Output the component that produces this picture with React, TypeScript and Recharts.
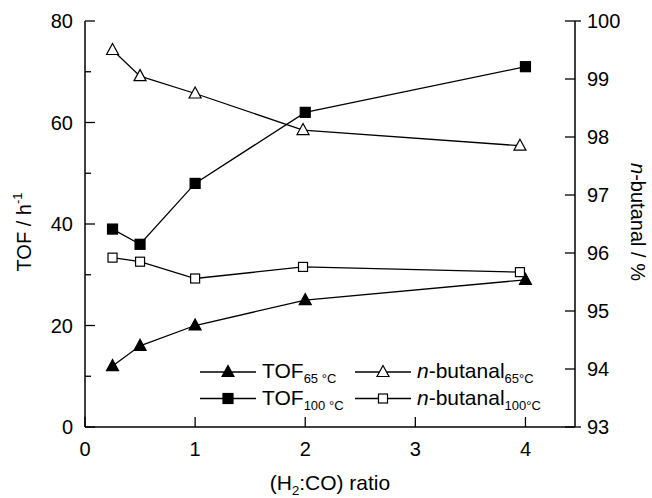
import React from "react";
import { LineChart, Line, XAxis, YAxis, Legend, Label } from "recharts";

// H2:CO ratio at which each series was measured
const ratioTof = [0.25, 0.5, 1, 2, 4];
const ratioButanal = [0.25, 0.5, 1, 1.98, 3.95];

// turnover frequency, h^-1
const tof65 = [12, 16, 20, 25, 29];
const tof100 = [39, 36, 48, 62, 71];

// n-butanal selectivity, %
const butanal65 = [99.5, 99.05, 98.75, 98.12, 97.85];
const butanal100 = [95.92, 95.85, 95.56, 95.76, 95.67];

const xTicks = [0, 1, 2, 3, 4];
const tofTicks = [0, 10, 20, 30, 40, 50, 60, 70, 80];
const butanalTicks = [93, 94, 95, 96, 97, 98, 99, 100];

const FONT = "'Liberation Sans', Arial, Helvetica, sans-serif";
const INK = "#000";

const toPoints = (xs: number[], ys: number[]) =>
  xs.map((x, i) => ({ ratio: x, value: ys[i] }));

type DotProps = { cx?: number; cy?: number; index?: number };

const triangleDot = (filled: boolean) => (p: DotProps) => {
  const { cx = 0, cy = 0, index } = p;
  return (
    <path
      key={`t${index}`}
      d={`M${cx},${cy - 6.5} L${cx + 6},${cy + 4.5} L${cx - 6},${cy + 4.5} Z`}
      fill={filled ? INK : "#fff"}
      stroke={INK}
      strokeWidth={1.2}
    />
  );
};

const squareDot = (filled: boolean) => (p: DotProps) => {
  const { cx = 0, cy = 0, index } = p;
  const s = filled ? 10 : 9;
  return (
    <rect
      key={`s${index}`}
      x={cx - s / 2}
      y={cy - s / 2}
      width={s}
      height={s}
      fill={filled ? INK : "#fff"}
      stroke={INK}
      strokeWidth={1.2}
    />
  );
};

// tick renderers: tickSize is 0, so x/y arrive on the axis line itself
const LeftTick = (props: any) => {
  const { x, y, payload } = props;
  const v = payload.value;
  const major = v % 20 === 0;
  return (
    <g>
      <line x1={x} x2={x + (major ? 10 : 6)} y1={y} y2={y} stroke={INK} strokeWidth={1.3} />
      {major && (
        <text x={x - 12} y={y} dy="0.35em" textAnchor="end" fontSize={20} fontFamily={FONT} fill={INK}>
          {v}
        </text>
      )}
    </g>
  );
};

const RightTick = (props: any) => {
  const { x, y, payload } = props;
  const v = payload.value;
  const edge = v === 93 || v === 100;
  return (
    <g>
      <line x1={x - 10} x2={edge ? x + 6 : x} y1={y} y2={y} stroke={INK} strokeWidth={1.3} />
      <text x={x + 12} y={y} dy="0.35em" textAnchor="start" fontSize={20} fontFamily={FONT} fill={INK}>
        {v}
      </text>
    </g>
  );
};

const BottomTick = (props: any) => {
  const { x, y, payload } = props;
  return (
    <g>
      <line x1={x} x2={x} y1={y} y2={y - 10} stroke={INK} strokeWidth={1.3} />
      <text x={x} y={y + 22} dy="0.35em" textAnchor="middle" fontSize={20} fontFamily={FONT} fill={INK}>
        {payload.value}
      </text>
    </g>
  );
};

const TopTick = (props: any) => {
  const { x, y } = props;
  return <line x1={x} x2={x} y1={y} y2={y + 10} stroke={INK} strokeWidth={1.3} />;
};

const XTitle = (props: any) => {
  const { x, y, width } = props.viewBox;
  return (
    <text x={x + width / 2} y={y + 63} textAnchor="middle" fontSize={21} fontFamily={FONT} fill={INK}>
      (H<tspan fontSize={13} dy={5}>2</tspan>
      <tspan dy={-5}>:CO) ratio</tspan>
    </text>
  );
};

const LeftTitle = (props: any) => {
  const { y, height } = props.viewBox;
  const cx = 31;
  const cy = y + height / 2 + 8;
  return (
    <text
      x={cx}
      y={cy}
      transform={`rotate(-90, ${cx}, ${cy})`}
      textAnchor="middle"
      fontSize={20}
      fontFamily={FONT}
      fill={INK}
    >
      TOF / h<tspan fontSize={13} dy={-9}>-1</tspan>
    </text>
  );
};

const RightTitle = (props: any) => {
  const { x, y, height } = props.viewBox;
  const cx = x + 56;
  const cy = y + height / 2 - 2;
  return (
    <text
      x={cx}
      y={cy}
      transform={`rotate(90, ${cx}, ${cy})`}
      textAnchor="middle"
      fontSize={20}
      fontFamily={FONT}
      fill={INK}
    >
      <tspan fontStyle="italic">n</tspan>-butanal / %
    </text>
  );
};

const legendItems = [
  { main: "TOF", sub: "65 °C", italicN: false, marker: "triangle", filled: true, col: 0, row: 0 },
  { main: "-butanal", sub: "65°C", italicN: true, marker: "triangle", filled: false, col: 1, row: 0 },
  { main: "TOF", sub: "100 °C", italicN: false, marker: "square", filled: true, col: 0, row: 1 },
  { main: "-butanal", sub: "100°C", italicN: true, marker: "square", filled: false, col: 1, row: 1 },
];

const renderLegend = () => {
  const colX = [10, 165];
  const rowY = [22, 48.5];
  return (
    <svg width={370} height={68} style={{ overflow: "visible" }}>
      {legendItems.map((it, i) => {
        const x0 = colX[it.col];
        const y0 = rowY[it.row];
        const mx = x0 + 28;
        const marker =
          it.marker === "triangle"
            ? triangleDot(it.filled)({ cx: mx, cy: y0, index: i })
            : squareDot(it.filled)({ cx: mx, cy: y0, index: i });
        return (
          <g key={i}>
            <line x1={x0} x2={x0 + 56} y1={y0} y2={y0} stroke={INK} strokeWidth={1.3} />
            {marker}
            <text x={x0 + 62} y={y0 + 6} fontSize={21} fontFamily={FONT} fill={INK}>
              {it.italicN && <tspan fontStyle="italic">n</tspan>}
              {it.main}
              <tspan fontSize={13} dy={5}>
                {it.sub}
              </tspan>
            </text>
          </g>
        );
      })}
    </svg>
  );
};

export default function App() {
  return (
    <div style={{ position: "absolute", left: 0, top: 0, background: "#fff" }}>
      <LineChart width={652} height={498} margin={{ top: 21, right: 0, bottom: 0, left: 0 }}>
        <XAxis
          xAxisId="bottom"
          dataKey="ratio"
          type="number"
          domain={[0, 4.45]}
          allowDataOverflow
          ticks={xTicks}
          interval={0}
          height={71}
          tickSize={0}
          tickMargin={0}
          tick={BottomTick}
          axisLine={{ stroke: INK, strokeWidth: 1.5 }}
        >
          <Label content={XTitle} />
        </XAxis>
        <XAxis
          xAxisId="top"
          orientation="top"
          dataKey="ratio"
          type="number"
          domain={[0, 4.45]}
          allowDataOverflow
          ticks={[1, 2, 3, 4]}
          interval={0}
          height={0}
          tickSize={0}
          tickMargin={0}
          tick={TopTick}
          axisLine={{ stroke: INK, strokeWidth: 1.5 }}
        />
        <YAxis
          yAxisId="tof"
          type="number"
          domain={[0, 80]}
          allowDataOverflow
          ticks={tofTicks}
          interval={0}
          width={85}
          tickSize={0}
          tickMargin={0}
          tick={LeftTick}
          axisLine={{ stroke: INK, strokeWidth: 1.5 }}
        >
          <Label content={LeftTitle} />
        </YAxis>
        <YAxis
          yAxisId="butanal"
          orientation="right"
          type="number"
          domain={[93, 100]}
          allowDataOverflow
          ticks={butanalTicks}
          interval={0}
          width={77}
          tickSize={0}
          tickMargin={0}
          tick={RightTick}
          axisLine={{ stroke: INK, strokeWidth: 1.5 }}
        >
          <Label content={RightTitle} />
        </YAxis>

        <Line
          name="TOF 65 °C"
          data={toPoints(ratioTof, tof65)}
          dataKey="value"
          xAxisId="bottom"
          yAxisId="tof"
          stroke={INK}
          strokeWidth={1.3}
          dot={triangleDot(true)}
          activeDot={false}
          isAnimationActive={false}
        />
        <Line
          name="TOF 100 °C"
          data={toPoints(ratioTof, tof100)}
          dataKey="value"
          xAxisId="bottom"
          yAxisId="tof"
          stroke={INK}
          strokeWidth={1.3}
          dot={squareDot(true)}
          activeDot={false}
          isAnimationActive={false}
        />
        <Line
          name="n-butanal 65°C"
          data={toPoints(ratioButanal, butanal65)}
          dataKey="value"
          xAxisId="bottom"
          yAxisId="butanal"
          stroke={INK}
          strokeWidth={1.3}
          dot={triangleDot(false)}
          activeDot={false}
          isAnimationActive={false}
        />
        <Line
          name="n-butanal 100°C"
          data={toPoints(ratioButanal, butanal100)}
          dataKey="value"
          xAxisId="bottom"
          yAxisId="butanal"
          stroke={INK}
          strokeWidth={1.3}
          dot={squareDot(false)}
          activeDot={false}
          isAnimationActive={false}
        />

        <Legend
          layout="horizontal"
          align="center"
          verticalAlign="middle"
          content={renderLegend}
          wrapperStyle={{ left: 190, top: 350, width: 370, height: 68 }}
        />
      </LineChart>
    </div>
  );
}
